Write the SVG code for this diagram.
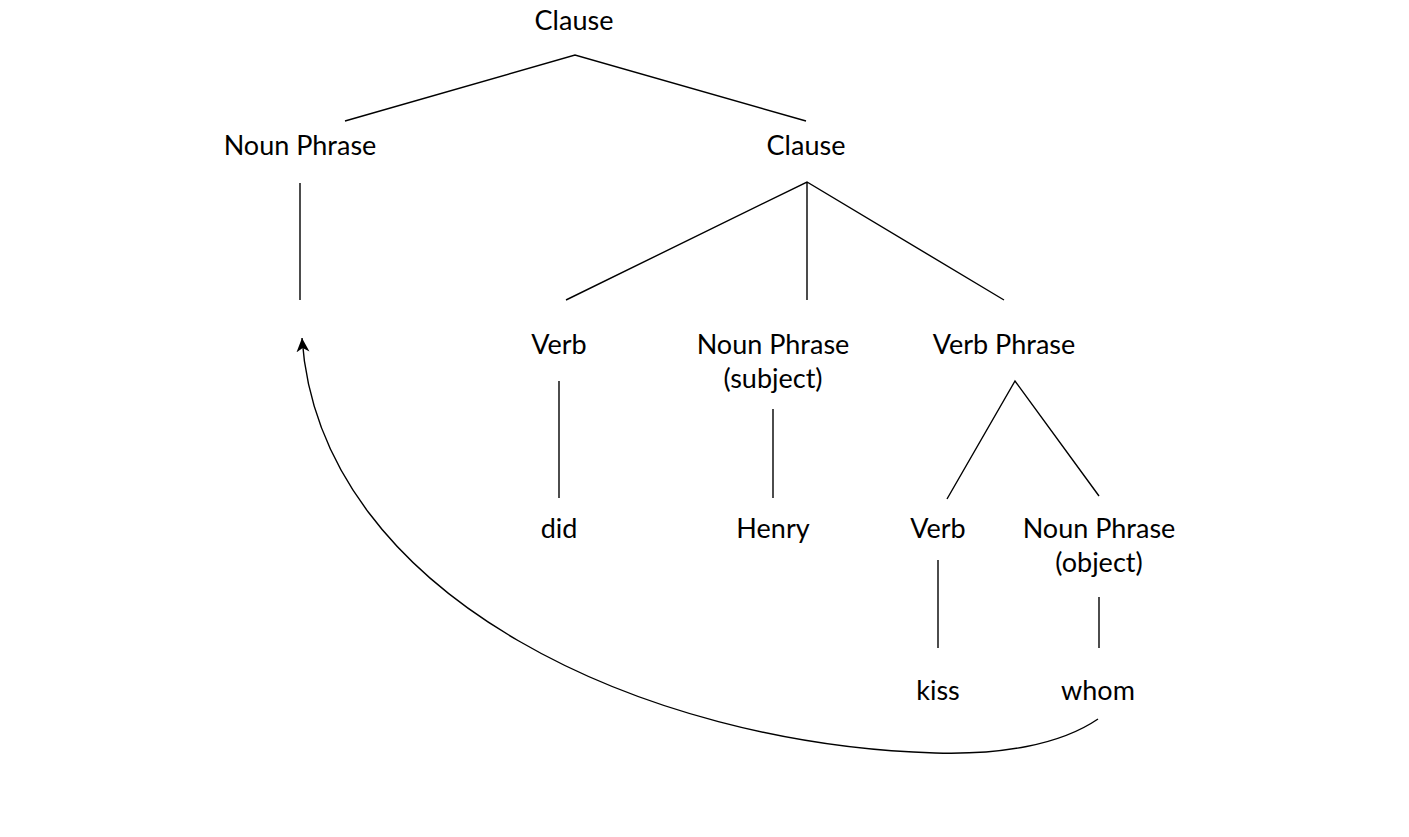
<svg xmlns="http://www.w3.org/2000/svg" width="1409" height="837" viewBox="0 0 1409 837">
<style>
text{font-family:Lato,"Open Sans","Liberation Sans",sans-serif;font-size:27px;fill:#000;text-anchor:middle}
.e{stroke:#000;stroke-width:1.4;fill:none}
</style>
<defs>
<marker id="ah" markerWidth="16" markerHeight="14" refX="14" refY="6.5" orient="auto" markerUnits="userSpaceOnUse">
<path d="M0,0 L14,6.5 L0,13 L4,6.5 Z" fill="#000"/>
</marker>
</defs>
<rect width="1409" height="837" fill="#fff"/>
<g id="connectors">
<path class="e" d="M345,121 L575,55 L806,121"/>
<path class="e" d="M300,183 L300,300"/>
<path class="e" d="M566,300 L807,182 L1004,300 M807,182 L807,300"/>
<path class="e" d="M559,381 L559,498"/>
<path class="e" d="M773,409 L773,498"/>
<path class="e" d="M947,499 L1015,381 L1099,496"/>
<path class="e" d="M938,560 L938,648"/>
<path class="e" d="M1099,597 L1099,648"/>
<path class="e" marker-end="url(#ah)" d="M1098,719 C1060,745 1000,755 935,753 C650,745 320,600 302,338"/>
</g>
<g id="n-clause-top"><text x="574" y="30">Clause</text></g>
<g id="n-np"><text x="300" y="155">Noun Phrase</text></g>
<g id="n-clause"><text x="806" y="155">Clause</text></g>
<g id="n-verb1"><text x="559" y="354">Verb</text></g>
<g id="n-np-subj"><text x="773" y="354">Noun Phrase</text><text x="773" y="388">(subject)</text></g>
<g id="n-vp"><text x="1004" y="354">Verb Phrase</text></g>
<g id="n-did"><text x="559" y="538">did</text></g>
<g id="n-henry"><text x="773" y="538">Henry</text></g>
<g id="n-verb2"><text x="938" y="538">Verb</text></g>
<g id="n-np-obj"><text x="1099" y="538">Noun Phrase</text><text x="1099" y="572">(object)</text></g>
<g id="n-kiss"><text x="938" y="700">kiss</text></g>
<g id="n-whom"><text x="1098" y="700">whom</text></g>
</svg>
